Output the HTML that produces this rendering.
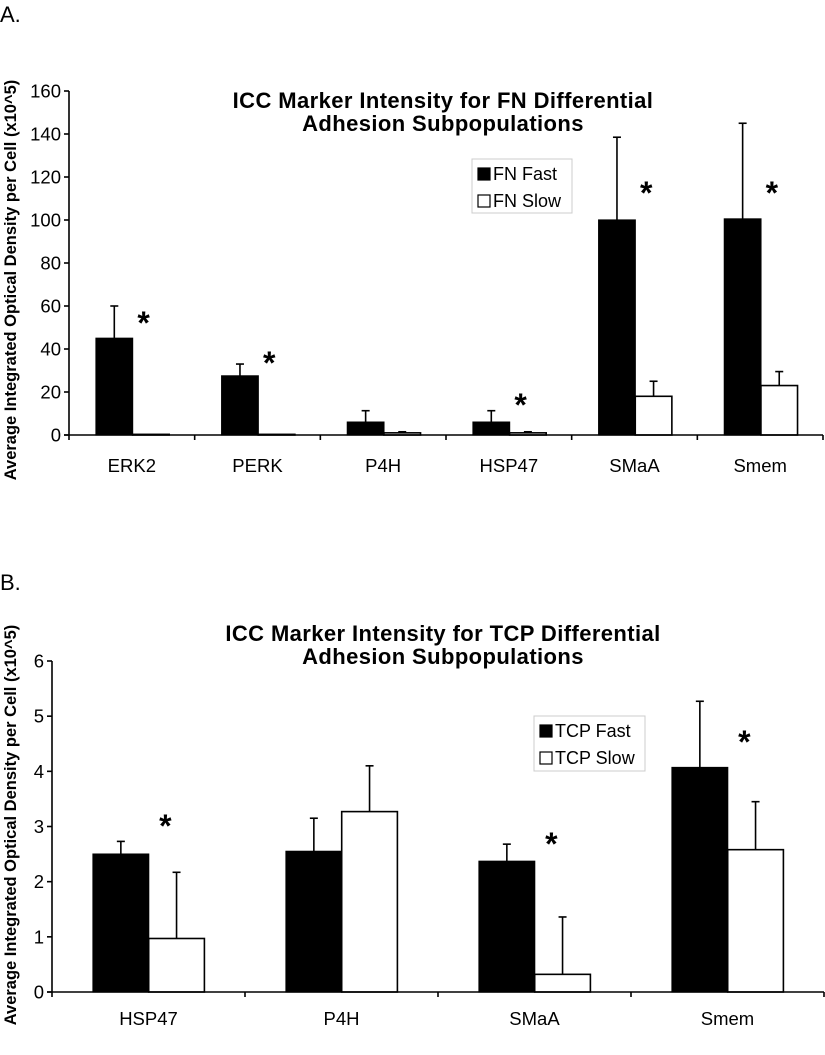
<!DOCTYPE html>
<html><head><meta charset="utf-8"><style>
body{margin:0;background:#fff;}
svg text{font-family:"Liberation Sans",sans-serif;fill:#000;}
</style></head><body>
<svg id="s" width="825" height="1050" xmlns="http://www.w3.org/2000/svg">
<text x="0" y="22" font-size="22">A.</text>
<text x="0" y="590" font-size="22">B.</text>
</svg>
<script>
const catsA=["ERK2","PERK","P4H","HSP47","SMaA","Smem"];
const fastA=[45,27.5,6,6,100,100.5];
const fastErrA=[60,33,11.3,11.3,138.5,145];
const slowA=[0.3,0.3,1,1,18,23];
const slowErrA=[0.3,0.3,1.5,1.5,25,29.5];
const starsA=[true,true,false,true,true,true];
const ticksA=[0,20,40,60,80,100,120,140,160];

const catsB=["HSP47","P4H","SMaA","Smem"];
const fastB=[2.5,2.55,2.37,4.07];
const fastErrB=[2.73,3.15,2.68,5.27];
const slowB=[0.97,3.27,0.32,2.58];
const slowErrB=[2.17,4.1,1.36,3.45];
const starsB=[true,false,true,true];
const ticksB=[0,1,2,3,4,5,6];

const svg=document.getElementById('s');
const NS="http://www.w3.org/2000/svg";
function mk(tag,attrs,txt){const e=document.createElementNS(NS,tag);for(const k in attrs)e.setAttribute(k,attrs[k]);if(txt!=null)e.textContent=txt;svg.appendChild(e);return e;}

function chart(o){
  const y=v=>o.y0-(v/o.max)*(o.y0-o.yTop);
  const cw=(o.x1-o.x0)/o.cats.length;
  o.cats.forEach((c,i)=>{
    const xs=o.x0+i*cw+o.off;
    [[o.fast,o.fastErr,xs],[o.slow,o.slowErr,xs+o.bw]].forEach(([v,e,bx],k)=>{
      const cx=bx+o.bw/2;
      if(e[i]>v[i]+0.01){
        let l=mk('line',{x1:cx,x2:cx,y1:y(v[i]),y2:y(e[i]),stroke:'#000','stroke-width':1.6});
        
        
        let t=mk('line',{x1:cx-o.cap,x2:cx+o.cap,y1:y(e[i]),y2:y(e[i]),stroke:'#000','stroke-width':1.6});
        
        
      }
    });
    let r=mk('rect',{x:xs,y:y(o.fast[i]),width:o.bw,height:o.y0-y(o.fast[i]),fill:'#000',stroke:'#000','stroke-width':1.2});
    
    
    let r2=mk('rect',{x:xs+o.bw,y:y(o.slow[i]),width:o.bw,height:Math.max(o.y0-y(o.slow[i]),0.5),fill:'#fff',stroke:'#000','stroke-width':1.6});
    
    
    if(o.stars[i]){
      let s=mk('text',{x:xs+o.bw*1.3,y:o.starY[i],'font-size':32,'font-weight':'bold','text-anchor':'middle'},'*');
      
      
    }
    let lb=mk('text',{x:o.x0+i*cw+cw/2,y:o.labY,'font-size':18.5,'text-anchor':'middle'},c);
    
    
  });
  let ax=mk('line',{x1:o.x0,x2:o.x0,y1:o.yTop,y2:o.y0,stroke:'#000','stroke-width':1.6});
  
  let xa=mk('line',{x1:o.x0-5,x2:o.x1,y1:o.y0,y2:o.y0,stroke:'#000','stroke-width':1.6});
  
  for(let i=0;i<=o.cats.length;i++){
    let t=mk('line',{x1:o.x0+i*cw,x2:o.x0+i*cw,y1:o.y0,y2:o.y0+5,stroke:'#000','stroke-width':1.6});
    
  }
  o.ticks.forEach(v=>{
    let t=mk('line',{x1:o.x0-5,x2:o.x0,y1:y(v),y2:y(v),stroke:'#000','stroke-width':1.6});
    
    let l=mk('text',{x:o.x0-8,y:y(v)+6.5,'font-size':18.5,'text-anchor':'end'},String(v));
    
  });
  let yt=mk('text',{x:0,y:0,'font-size':16.5,'font-weight':'bold','text-anchor':'middle',transform:`translate(16,${o.ytc}) rotate(-90)`},'Average Integrated Optical Density per Cell (x10^5)');
  
  o.title.forEach((t,k)=>{
    let e=mk('text',{x:o.tx,y:o.ty+k*23,'font-size':22,'font-weight':'bold','text-anchor':'middle','letter-spacing':'0.4'},t);
    
  });
  const L=o.leg;
  let lb=mk('rect',{x:L.x,y:L.y,width:L.w,height:L.h,fill:'#fff',stroke:'#ccc','stroke-width':1});
  
  L.names.forEach((n,k)=>{
    const yy=L.y+8+k*27;
    let sw=mk('rect',{x:L.x+6,y:yy+1,width:12,height:12,fill:k?'#fff':'#000',stroke:'#000','stroke-width':1.2});
    
    let tx=mk('text',{x:L.x+21,y:yy+13,'font-size':18},n);
    
  });
}

chart({p:'a',cats:catsA,fast:fastA,fastErr:fastErrA,slow:slowA,slowErr:slowErrA,stars:starsA,ticks:ticksA,
  x0:69,x1:823,y0:435,yTop:91,max:160,off:27,bw:36.6,cap:4,labY:472,
  starY:[334,374,0,416,204,204],
  title:['ICC Marker Intensity for FN Differential','Adhesion Subpopulations'],tx:443,ty:108,ytc:280,
  leg:{x:472,y:159,w:100,h:54,names:['FN Fast','FN Slow']}});
chart({p:'b',cats:catsB,fast:fastB,fastErr:fastErrB,slow:slowB,slowErr:slowErrB,stars:starsB,ticks:ticksB,
  x0:52,x1:824,y0:992,yTop:661,max:6,off:41,bw:55.7,cap:4,labY:1025,
  starY:[837,0,855,753],
  title:['ICC Marker Intensity for TCP Differential','Adhesion Subpopulations'],tx:443,ty:641,ytc:825,
  leg:{x:534,y:716,w:111,h:55,names:['TCP Fast','TCP Slow']}});
</script>
</body></html>
